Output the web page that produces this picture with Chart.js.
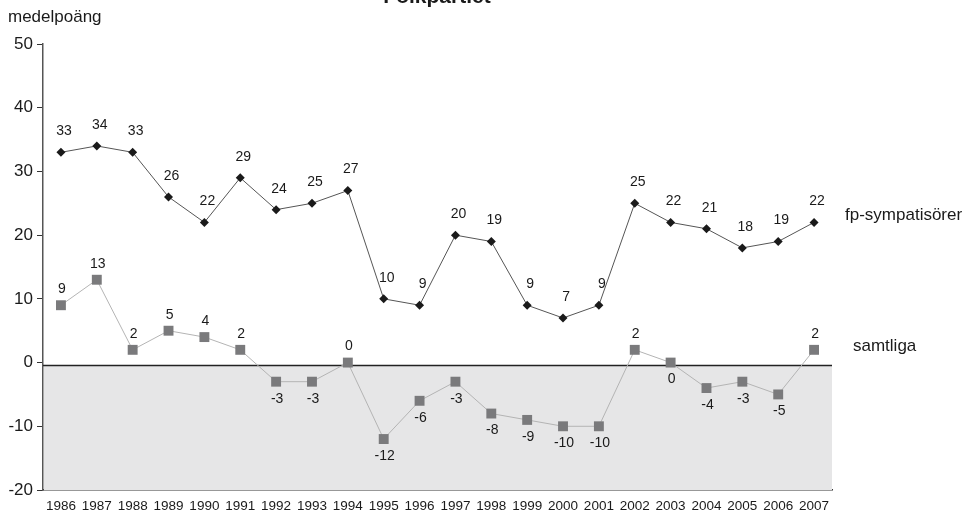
<!DOCTYPE html>
<html>
<head>
<meta charset="utf-8">
<script src="https://cdn.jsdelivr.net/npm/chart.js@4.4.1/dist/chart.umd.min.js"></script>
<style>
html,body{margin:0;padding:0;background:#fff;}
#wrap{width:970px;height:517px;position:relative;}
</style>
</head>
<body>
<div id="wrap"><canvas id="c" width="970" height="517"></canvas></div>
<script>
const years = ['1986','1987','1988','1989','1990','1991','1992','1993','1994','1995','1996','1997','1998','1999','2000','2001','2002','2003','2004','2005','2006','2007'];
const fpSympatisorer = [33,34,33,26,22,29,24,25,27,10,9,20,19,9,7,9,25,22,21,18,19,22];
const samtliga = [9,13,2,5,4,2,-3,-3,0,-12,-6,-3,-8,-9,-10,-10,2,0,-4,-3,-5,2];
const samtligaLabelBelow = [false,false,false,false,false,false,true,true,false,true,true,true,true,true,true,true,false,true,true,true,true,false];
const seriesNames = ['fp-sympatisörer','samtliga'];
const yTicks = [-20,-10,0,10,20,30,40,50];
const titleText = 'Folkpartiet';
const yAxisTitle = 'medelpoäng';

const FONT = '"Liberation Sans", Arial, sans-serif';

const decor = {
  id: 'decor',
  beforeDatasetsDraw(chart) {
    const {ctx, chartArea: a, scales: {y}} = chart;
    const z = y.getPixelForValue(0) + 3;
    ctx.save();
    ctx.fillStyle = '#e6e6e7';
    ctx.fillRect(a.left + 1, z, a.right - a.left - 1, a.bottom - z);
    ctx.strokeStyle = '#222';
    ctx.lineWidth = 1.5;
    ctx.beginPath();
    ctx.moveTo(a.left, z);
    ctx.lineTo(a.right, z);
    ctx.stroke();
    ctx.restore();
  },
  afterDatasetsDraw(chart) {
    const {ctx} = chart;
    ctx.save();
    ctx.font = '14px ' + FONT;
    ctx.fillStyle = '#1a1a1a';
    ctx.textAlign = 'center';
    ctx.textBaseline = 'middle';
    const m0 = chart.getDatasetMeta(0);
    m0.data.forEach((p, i) => {
      ctx.fillText(String(fpSympatisorer[i]), p.x + 3, p.y - 21);
    });
    const m1 = chart.getDatasetMeta(1);
    m1.data.forEach((p, i) => {
      const dy = samtligaLabelBelow[i] ? 17 : -16;
      ctx.fillText(String(samtliga[i]), p.x + 1, p.y + dy);
    });
    // series names on right
    ctx.font = '17px ' + FONT;
    ctx.textAlign = 'left';
    const lastFp = m0.data[m0.data.length - 1];
    const lastS = m1.data[m1.data.length - 1];
    ctx.fillText(seriesNames[0], 845, lastFp.y - 7);
    ctx.fillText(seriesNames[1], 853, lastS.y - 4);
    // title and axis title
    ctx.font = 'bold 21px ' + FONT;
    ctx.textAlign = 'center';
    ctx.textBaseline = 'alphabetic';
    ctx.fillText(titleText, 437, 3);
    ctx.font = '17px ' + FONT;
    ctx.textAlign = 'left';
    ctx.textBaseline = 'middle';
    ctx.fillText(yAxisTitle, 8, 17);
    ctx.restore();
  }
};

new Chart(document.getElementById('c'), {
  type: 'line',
  data: {
    labels: years,
    datasets: [
      {
        label: seriesNames[0],
        data: fpSympatisorer,
        borderColor: '#555',
        borderWidth: 1,
        pointStyle: 'rectRot',
        pointRadius: 4.5,
        pointBackgroundColor: '#1a1a1a',
        pointBorderColor: '#1a1a1a',
        pointBorderWidth: 0,
        tension: 0
      },
      {
        label: seriesNames[1],
        data: samtliga,
        borderColor: '#b4b4b4',
        borderWidth: 1,
        pointStyle: 'rect',
        pointRadius: 7,
        pointBackgroundColor: '#7a7a7c',
        pointBorderColor: '#7a7a7c',
        pointBorderWidth: 0,
        tension: 0
      }
    ]
  },
  options: {
    responsive: false,
    animation: false,
    devicePixelRatio: 1,
    layout: {padding: {top: 44, right: 138, left: 0, bottom: 0}},
    plugins: {legend: {display: false}, tooltip: {enabled: false}, title: {display: false}},
    scales: {
      x: {
        offset: true,
        grid: {display: false, drawTicks: false},
        border: {display: true, color: '#333', width: 1.5},
        ticks: {
          color: '#1a1a1a',
          font: {family: FONT, size: 13.5},
          maxRotation: 0, minRotation: 0, autoSkip: false, padding: 8
        },
        afterFit(s) { s.height = 27; }
      },
      y: {
        min: -20, max: 50,
        afterBuildTicks(s) { s.ticks = yTicks.map(v => ({value: v})); },
        grid: {drawOnChartArea: false, drawTicks: true, tickLength: 6, color: '#333'},
        border: {display: true, color: '#555', width: 1.5},
        ticks: {color: '#1a1a1a', font: {family: FONT, size: 17}, padding: 4},
        afterFit(s) { s.width = 43; }
      }
    }
  },
  plugins: [decor]
});
</script>
</body>
</html>
